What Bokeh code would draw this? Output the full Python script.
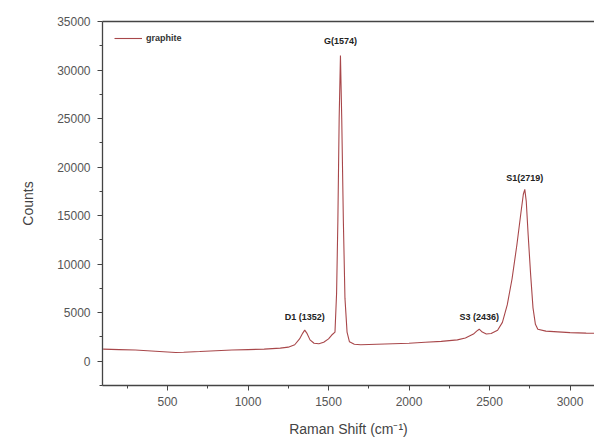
from bokeh.plotting import figure
from bokeh.models import FixedTicker, LinearAxis, Range1d, Legend, LegendItem
from bokeh.core.properties import value
from bokeh.embed import file_html
from bokeh.resources import INLINE

shift = [100, 200, 300, 400, 500, 550, 600, 700, 800, 900, 1000, 1100, 1200, 1250,
         1290, 1320, 1340, 1352, 1365, 1385, 1410, 1440, 1470, 1500, 1520, 1540,
         1550, 1558, 1566, 1574, 1582, 1592, 1602, 1615, 1630, 1660, 1700, 1800,
         1900, 2000, 2100, 2200, 2300, 2350, 2400, 2420, 2436, 2455, 2480, 2510,
         2550, 2580, 2610, 2640, 2670, 2695, 2710, 2719, 2728, 2740, 2755, 2770,
         2785, 2800, 2850, 2900, 2950, 3000, 3100, 3160]
counts = [1250, 1200, 1150, 1050, 950, 900, 930, 1000, 1080, 1150, 1200, 1250, 1350, 1450,
          1700, 2300, 2900, 3200, 2900, 2200, 1850, 1800, 1950, 2300, 2700, 3000,
          7000, 14500, 25000, 31500, 25000, 14500, 6500, 3000, 2000, 1750, 1700, 1750,
          1800, 1850, 1950, 2050, 2200, 2400, 2800, 3100, 3300, 3000, 2800, 2850,
          3200, 4000, 5800, 8500, 12000, 15300, 17200, 17700, 16500, 13000, 9000, 5500,
          3800, 3300, 3100, 3050, 3000, 2950, 2900, 2880]

peak_labels = ["D1 (1352)", "G(1574)", "S3 (2436)", "S1(2719)"]
peak_x = [1352, 1574, 2436, 2719]
peak_y = [4600, 33000, 4550, 18900]

x_ticks = [500, 1000, 1500, 2000, 2500, 3000]
x_minor = [250, 750, 1250, 1750, 2250, 2750]
y_ticks = [0, 5000, 10000, 15000, 20000, 25000, 30000, 35000]
y_minor = [-2500, 2500, 7500, 12500, 17500, 22500, 27500, 32500]

p = figure(width=594, height=443, output_backend="svg", toolbar_location=None,
           x_range=Range1d(96, 3152), y_range=Range1d(-2500, 35000),
           min_border_left=102, min_border_right=0, min_border_top=21,
           min_border_bottom=58)
p.outline_line_color = None
p.grid.visible = False
p.background_fill_color = "white"

r = p.line(shift, counts, line_color="#a8474a", line_width=1.1)

for ax in (p.xaxis[0], p.yaxis[0]):
    ax.axis_line_color = "#444444"
    ax.axis_line_width = 1.3
    ax.major_tick_line_color = "#444444"
    ax.minor_tick_line_color = "#444444"
    ax.major_tick_in = 0
    ax.major_tick_out = 5
    ax.minor_tick_in = 0
    ax.minor_tick_out = 3
    ax.major_label_text_font = "Liberation Sans"
    ax.major_label_text_font_size = "12px"
    ax.major_label_text_color = "#555555"
    ax.axis_label_text_font = "Liberation Sans"
    ax.axis_label_text_font_style = "normal"
    ax.axis_label_text_font_size = "14px"
    ax.axis_label_text_color = "#444444"

p.xaxis[0].ticker = FixedTicker(ticks=x_ticks, minor_ticks=x_minor)
p.yaxis[0].ticker = FixedTicker(ticks=y_ticks, minor_ticks=y_minor)
p.xaxis[0].axis_label = "Raman Shift (cm\u207b\u00b9)"
p.yaxis[0].axis_label = "Counts"
p.xaxis[0].major_label_standoff = 6
p.yaxis[0].major_label_standoff = 7
p.xaxis[0].axis_label_standoff = 12
p.yaxis[0].axis_label_standoff = 18

top = LinearAxis(ticker=FixedTicker(ticks=[]), axis_line_color="#444444",
                 axis_line_width=1.3, major_tick_line_color=None,
                 minor_tick_line_color=None, major_label_text_font_size="0px")
p.add_layout(top, "above")

p.text(x=peak_x, y=peak_y, text=peak_labels, text_font=value("Liberation Sans"),
       text_font_size="9px", text_font_style="bold", text_color="#222222",
       text_align="center", text_baseline="middle")

legend = Legend(items=[LegendItem(label="graphite", renderers=[r])],
                location="top_left", border_line_color=None,
                background_fill_alpha=0, label_text_font_size="9px",
                label_text_font="Liberation Sans", label_text_font_style="bold",
                label_text_color="#333333", glyph_width=28, glyph_height=8,
                margin=12, padding=4, label_standoff=4)
p.add_layout(legend)

open("out.html", "w").write(file_html(p, INLINE))
